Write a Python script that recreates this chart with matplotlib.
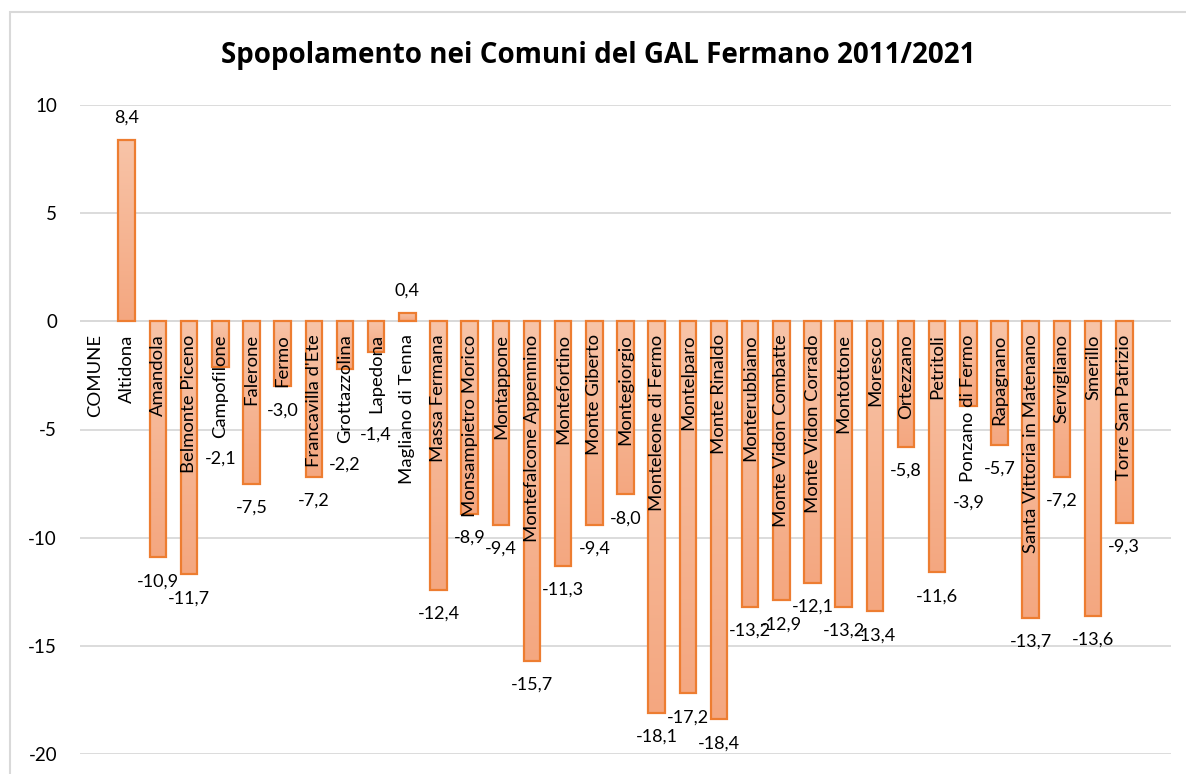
import numpy as np
import matplotlib
matplotlib.use("Agg")
import matplotlib.pyplot as plt
from matplotlib.colors import LinearSegmentedColormap
from matplotlib.patches import Rectangle
from matplotlib.transforms import offset_copy

plt.rcParams['font.family'] = ['Lato', 'DejaVu Sans']
plt.rcParams['axes.unicode_minus'] = False

title = "Spopolamento nei Comuni del GAL Fermano 2011/2021"
header = "COMUNE"
comuni = ["Altidona", "Amandola", "Belmonte Piceno", "Campofilone", "Falerone", "Fermo",
          "Francavilla d'Ete", "Grottazzolina", "Lapedona", "Magliano di Tenna",
          "Massa Fermana", "Monsampietro Morico", "Montappone", "Montefalcone Appennino",
          "Montefortino", "Monte Giberto", "Montegiorgio", "Monteleone di Fermo",
          "Montelparo", "Monte Rinaldo", "Monterubbiano", "Monte Vidon Combatte",
          "Monte Vidon Corrado", "Montottone", "Moresco", "Ortezzano", "Petritoli",
          "Ponzano di Fermo", "Rapagnano", "Santa Vittoria in Matenano", "Servigliano",
          "Smerillo", "Torre San Patrizio"]
variazione = [8.4, -10.9, -11.7, -2.1, -7.5, -3.0, -7.2, -2.2, -1.4, 0.4,
              -12.4, -8.9, -9.4, -15.7, -11.3, -9.4, -8.0, -18.1, -17.2, -18.4,
              -13.2, -12.9, -12.1, -13.2, -13.4, -5.8, -11.6, -3.9, -5.7, -13.7,
              -7.2, -13.6, -9.3]
yticks = [10, 5, 0, -5, -10, -15, -20]

categories = [header] + comuni
values = [np.nan] + variazione

W, H, DPI = 1186, 774, 100
fig = plt.figure(figsize=(W / DPI, H / DPI), dpi=DPI)
fig.patch.set_facecolor('white')
# chart frame
fig.add_artist(Rectangle((10 / W, -0.01), 1.0, 1 - 12 / H + 0.01, transform=fig.transFigure,
                         fill=False, edgecolor='#d9d9d9', linewidth=1.5))

ax = fig.add_axes([80 / W, 1 - 754 / H, (1171 - 80) / W, (754 - 105) / H])
x = np.arange(len(categories))
bw = 0.53
cmap = LinearSegmentedColormap.from_list('g', ['#f8c4a8', '#f4a780'])
grad = np.linspace(0, 1, 256).reshape(-1, 1)

for xi, v in zip(x, values):
    if np.isnan(v):
        continue
    lo, hi = min(0, v), max(0, v)
    ax.imshow(grad, cmap=cmap, extent=[xi - bw / 2, xi + bw / 2, lo, hi],
              aspect='auto', origin='upper', zorder=2, interpolation='bilinear')
    ax.add_patch(Rectangle((xi - bw / 2, lo), bw, hi - lo, facecolor='none',
                           edgecolor='#ed7d31', linewidth=1.6, zorder=3))

ax.set_xlim(-0.5, len(categories) + 0.5)
ax.set_ylim(-20, 10)
ax.set_yticks(yticks)
ax.set_yticklabels([str(t) for t in yticks], fontsize=13.5, color='#000000')
ax.yaxis.grid(True, color='#d9d9d9', linewidth=1.3, zorder=0)
ax.set_axisbelow(True)
for s in ['top', 'right', 'left', 'bottom']:
    ax.spines[s].set_visible(False)
ax.axhline(0, color='#d9d9d9', linewidth=1.3, zorder=1)
ax.tick_params(axis='y', length=0, pad=16.5)
ax.set_xticks([])

# category labels, drawn above the bars
cat_tr = offset_copy(ax.transData, fig=fig, x=0, y=-13, units='dots')
cat_texts = []
for xi, name in zip(x, categories):
    t = ax.text(xi, 0, name, rotation=90, va='top', ha='center', fontsize=13.3,
                color='#000000', transform=cat_tr, zorder=5)
    cat_texts.append(t)

fig.text(598 / W, 1 - 55 / H, title, ha='center', va='center', fontsize=20,
         fontweight='bold', color='#000000', family=['Open Sans', 'DejaVu Sans'])

fig.canvas.draw()
renderer = fig.canvas.get_renderer()
inv = ax.transData.inverted()
offset_px = 24
for xi, v, lab in zip(x, values, cat_texts):
    if np.isnan(v):
        continue
    txt = f"{v:.1f}".replace('.', ',')
    xd, yd = ax.transData.transform((xi, v))
    if v >= 0:
        ly = yd + offset_px - 2
    else:
        bb = lab.get_window_extent(renderer)
        ly = min(yd, bb.y0 + 3) - offset_px
    ly_data = inv.transform((xd, ly))[1]
    ax.text(xi, ly_data, txt, ha='center', va='center', fontsize=13,
            color='#000000', zorder=6)

fig.savefig('out.png', dpi=DPI, facecolor='white')
